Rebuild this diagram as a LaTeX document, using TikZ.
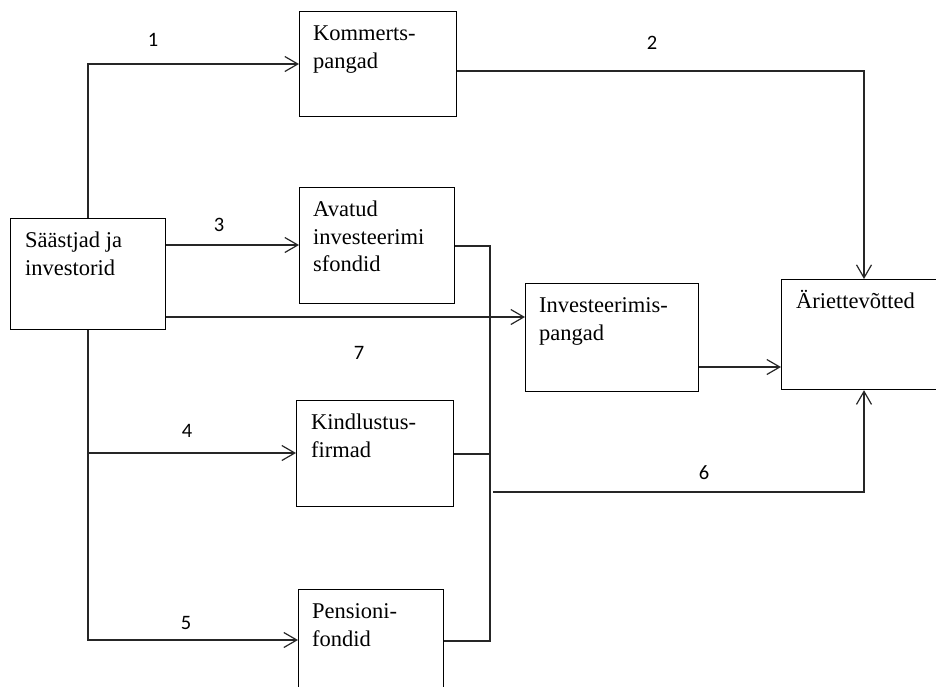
\documentclass[tikz,border=0pt]{standalone}
\usepackage{fontspec}
\setmainfont{Liberation Serif}
\newfontfamily\numfont{Carlito}
\usetikzlibrary{calc,arrows.meta}
\begin{document}
\begin{tikzpicture}[x=1pt,y=-1pt,
  box/.style={draw, line width=1.2pt, rectangle, inner sep=0pt, anchor=north west},
  txt/.style={anchor=north west, inner sep=0pt, align=left,
    font=\fontsize{22.5}{27.5}\selectfont},
  num/.style={inner sep=0pt, font=\numfont\fontsize{20.5}{24}\selectfont},
  line/.style={line width=1.2pt, color=black!85},
  arr/.style={line, -{Straight Barb[length=13pt,width=15pt]}}]
\useasboundingbox (0,0) rectangle (936,686);
\clip (0,0) rectangle (936,686);

% boxes
\node[box, minimum width=155pt, minimum height=111pt] (s)  at (10,218) {};
\node[box, minimum width=157pt, minimum height=105pt] (kp) at (299,11) {};
\node[box, minimum width=155pt, minimum height=116pt] (af) at (299,187) {};
\node[box, minimum width=173pt, minimum height=108pt] (ip) at (525,283) {};
\node[box, minimum width=190pt, minimum height=110pt] (ae) at (781,279) {};
\node[box, minimum width=157pt, minimum height=106pt] (kf) at (296,400) {};
\node[box, minimum width=145pt, minimum height=120pt] (pf) at (298,589) {};

% box texts
\node[txt] (st) at ($(s.north west)+(15,10.5)$)  {\strut Säästjad ja\\investorid};
\node[txt] (kt) at ($(kp.north west)+(14,10.5)$) {\strut Kommerts-\\pangad};
\node[txt] (at) at ($(af.north west)+(14,10.5)$) {\strut Avatud\\investeerimi\\sfondid};
\node[txt] (it) at ($(ip.north west)+(14,10.5)$) {\strut Investeerimis-\\pangad};
\node[txt] (et) at ($(ae.north west)+(15,10.5)$) {\strut Äriettevõtted};
\node[txt] (ft) at ($(kf.north west)+(15,10.5)$) {\strut Kindlustus-\\firmad};
\node[txt] (pt) at ($(pf.north west)+(14,10.5)$) {\strut Pensioni-\\fondid};

% collecting line on the right of the funds
\coordinate (bus) at (490,400);

% connectors
\draw[arr] ($(s.north west)+(78,0)$) |- ($(kp.north west)+(0,53)$);
\draw[arr] ($(kp.north east)+(0,60)$) -| ($(ae.north west)+(83,0)$);
\draw[arr] ($(s.north east)+(0,27)$) -- ($(af.north west)+(0,58)$);
\draw[arr] ($(s.north east)+(0,99)$) -- ($(ip.north west)+(0,34)$);
\draw[arr] ($(ip.north east)+(0,84)$) -- ($(ae.north west)+(0,88)$);
\draw[line] ($(af.north east)+(0,59)$) -| (bus) |- ($(pf.north east)+(0,52)$);
\draw[line] ($(kf.north east)+(0,54)$) -- (bus |- {$(kf.north east)+(0,54)$});
\draw[arr] ($(bus)+(3,92)$) -| ($(ae.south west)+(83,0)$);
\draw[arr] ($(s.south west)+(78,0)$) |- ($(kf.north west)+(0,53)$);
\draw[arr] ($(s.south west)+(78,0)$) |- ($(pf.north west)+(0,51)$);

% flow numbers
\node[num] (n1) at (153,40) {1};
\node[num] (n2) at (652,43) {2};
\node[num] (n3) at (219,225) {3};
\node[num] (n7) at (359,353) {7};
\node[num] (n4) at (187,431) {4};
\node[num] (n5) at (186,623) {5};
\node[num] (n6) at (704,473) {6};
\end{tikzpicture}
\end{document}
